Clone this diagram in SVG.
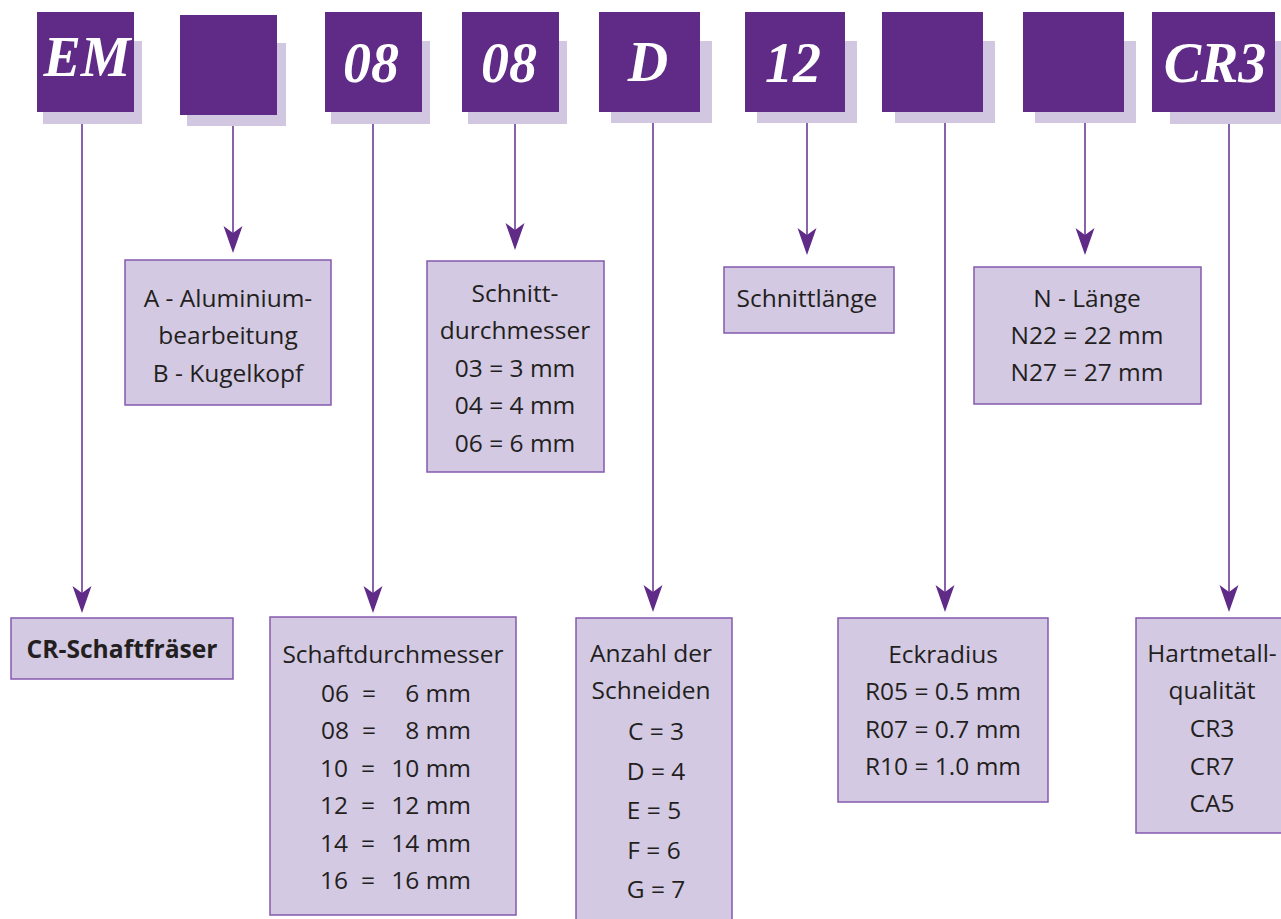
<svg xmlns="http://www.w3.org/2000/svg" width="1281" height="919" viewBox="0 0 1281 919">
<defs>
<style>
.sh{fill:#d1c7e1}
.dk{fill:#5f2b87}
.ct{font-family:"Liberation Serif","Times New Roman",serif;font-style:italic;font-weight:bold;font-size:56px;fill:#ffffff;text-anchor:middle}
.bx{fill:#d3c9e3;stroke:#8559ad;stroke-width:1.5}
.tx{font-family:"Open Sans","Noto Sans",sans-serif;font-size:24.5px;fill:#231f20;text-anchor:middle}
.bd{font-weight:bold}
.cn{stroke:#6a3a97;stroke-width:1.6;fill:none}
</style>
<marker id="ah" markerUnits="userSpaceOnUse" markerWidth="30" markerHeight="22" viewBox="0 -11 30 22" refX="23" refY="0" orient="auto">
<path d="M0,-9.5 L27,0 L0,9.5 L7,0 Z" fill="#5f2b87"/>
</marker>
</defs>

<g id="connectors">
<line class="cn" x1="82" y1="112" x2="82" y2="609" marker-end="url(#ah)"/>
<line class="cn" x1="233" y1="115" x2="233" y2="249" marker-end="url(#ah)"/>
<line class="cn" x1="373" y1="112" x2="373" y2="609" marker-end="url(#ah)"/>
<line class="cn" x1="515" y1="112" x2="515" y2="246" marker-end="url(#ah)"/>
<line class="cn" x1="653" y1="112" x2="653" y2="608" marker-end="url(#ah)"/>
<line class="cn" x1="807" y1="112" x2="807" y2="251" marker-end="url(#ah)"/>
<line class="cn" x1="945" y1="112" x2="945" y2="608" marker-end="url(#ah)"/>
<line class="cn" x1="1085" y1="112" x2="1085" y2="251" marker-end="url(#ah)"/>
<line class="cn" x1="1229" y1="112" x2="1229" y2="608" marker-end="url(#ah)"/>
</g>

<g id="code-em">
<rect class="sh" x="43" y="41" width="99" height="83"/>
<rect class="dk" x="37" y="12" width="97" height="100"/>
<text class="ct" x="87" y="76" font-size="49">EM</text>
</g>
<g id="code-blank1">
<rect class="sh" x="187" y="43" width="99" height="83"/>
<rect class="dk" x="180" y="15" width="97" height="100"/>
</g>
<g id="code-08a">
<rect class="sh" x="331" y="41" width="99" height="83"/>
<rect class="dk" x="325" y="12" width="97" height="100"/>
<text class="ct" x="371" y="82">08</text>
</g>
<g id="code-08b">
<rect class="sh" x="468" y="41" width="99" height="83"/>
<rect class="dk" x="462" y="12" width="97" height="100"/>
<text class="ct" x="509" y="82">08</text>
</g>
<g id="code-d">
<rect class="sh" x="611" y="41" width="101" height="82"/>
<rect class="dk" x="599" y="12" width="101" height="100"/>
<text class="ct" x="648" y="81">D</text>
</g>
<g id="code-12">
<rect class="sh" x="757" y="41" width="100" height="82"/>
<rect class="dk" x="745" y="12" width="100" height="100"/>
<text class="ct" x="793" y="82">12</text>
</g>
<g id="code-blank2">
<rect class="sh" x="895" y="41" width="100" height="82"/>
<rect class="dk" x="882" y="12" width="101" height="100"/>
</g>
<g id="code-blank3">
<rect class="sh" x="1035" y="41" width="101" height="82"/>
<rect class="dk" x="1023" y="12" width="101" height="100"/>
</g>
<g id="code-cr3">
<rect class="sh" x="1170" y="41" width="120" height="83"/>
<rect class="dk" x="1152" y="12" width="123" height="100"/>
<text class="ct" x="1215" y="82">CR3</text>
</g>

<g id="desc-cr">
<rect class="bx" x="11" y="618" width="222" height="61"/>
<text class="tx bd" x="122" y="658" textLength="191" lengthAdjust="spacingAndGlyphs">CR-Schaftfräser</text>
</g>
<g id="desc-ab">
<rect class="bx" x="125" y="260" width="206" height="145"/>
<text class="tx" x="228" y="307">A - Aluminium-</text>
<text class="tx" x="228" y="344">bearbeitung</text>
<text class="tx" x="228" y="382">B - Kugelkopf</text>
</g>
<g id="desc-schaft">
<rect class="bx" x="270" y="617" width="246" height="298"/>
<text class="tx" x="393" y="663">Schaftdurchmesser</text>
<g class="tx">
<text x="321" y="702" text-anchor="start">06</text><text x="369" y="702">=</text><text x="471" y="702" text-anchor="end">6 mm</text>
<text x="321" y="739" text-anchor="start">08</text><text x="369" y="739">=</text><text x="471" y="739" text-anchor="end">8 mm</text>
<text x="320" y="777" text-anchor="start">10</text><text x="368" y="777">=</text><text x="471" y="777" text-anchor="end">10 mm</text>
<text x="320" y="814" text-anchor="start">12</text><text x="368" y="814">=</text><text x="471" y="814" text-anchor="end">12 mm</text>
<text x="320" y="852" text-anchor="start">14</text><text x="368" y="852">=</text><text x="471" y="852" text-anchor="end">14 mm</text>
<text x="320" y="889" text-anchor="start">16</text><text x="368" y="889">=</text><text x="471" y="889" text-anchor="end">16 mm</text>
</g>
</g>
<g id="desc-schnitt">
<rect class="bx" x="427" y="261" width="177" height="211"/>
<text class="tx" x="515" y="302">Schnitt-</text>
<text class="tx" x="515" y="339">durchmesser</text>
<text class="tx" x="515" y="377">03 = 3 mm</text>
<text class="tx" x="515" y="414">04 = 4 mm</text>
<text class="tx" x="515" y="452">06 = 6 mm</text>
</g>
<g id="desc-schneiden">
<rect class="bx" x="576" y="618" width="156" height="310"/>
<text class="tx" x="651" y="662">Anzahl der</text>
<text class="tx" x="651" y="699">Schneiden</text>
<text class="tx" x="656" y="740">C = 3</text>
<text class="tx" x="656" y="780">D = 4</text>
<text class="tx" x="654" y="819">E = 5</text>
<text class="tx" x="654" y="859">F = 6</text>
<text class="tx" x="656" y="898">G = 7</text>
</g>
<g id="desc-schnittlaenge">
<rect class="bx" x="724" y="267" width="170" height="66"/>
<text class="tx" x="807" y="307">Schnittlänge</text>
</g>
<g id="desc-eckradius">
<rect class="bx" x="838" y="618" width="210" height="184"/>
<text class="tx" x="943" y="663">Eckradius</text>
<text class="tx" x="943" y="700">R05 = 0.5 mm</text>
<text class="tx" x="943" y="738">R07 = 0.7 mm</text>
<text class="tx" x="943" y="775">R10 = 1.0 mm</text>
</g>
<g id="desc-laenge">
<rect class="bx" x="974" y="267" width="227" height="137"/>
<text class="tx" x="1087" y="307">N - Länge</text>
<text class="tx" x="1087" y="344">N22 = 22 mm</text>
<text class="tx" x="1087" y="381">N27 = 27 mm</text>
</g>
<g id="desc-hartmetall">
<rect class="bx" x="1136" y="618" width="160" height="215"/>
<text class="tx" x="1212" y="662">Hartmetall-</text>
<text class="tx" x="1212" y="699">qualität</text>
<text class="tx" x="1212" y="737">CR3</text>
<text class="tx" x="1212" y="775">CR7</text>
<text class="tx" x="1212" y="812">CA5</text>
</g>
</svg>
